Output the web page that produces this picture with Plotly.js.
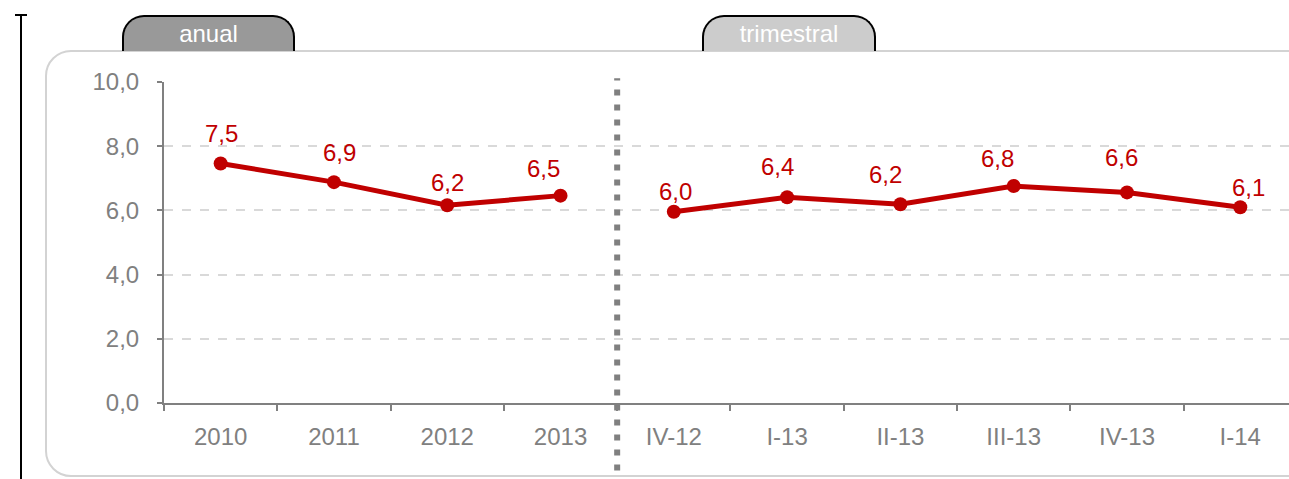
<!DOCTYPE html>
<html><head><meta charset="utf-8">
<script src="https://cdn.plot.ly/plotly-3.0.1.min.js"></script>
<style>
html,body{margin:0;padding:0;background:#fff;overflow:hidden;}
#wrap{position:relative;width:1289px;height:479px;}
#frame{position:absolute;left:45px;top:50px;width:1300px;height:427px;border:2px solid #d3d3d3;border-radius:26px;box-sizing:border-box;}
.tab{position:absolute;top:15px;height:36px;border:2px solid #000;border-bottom:none;border-radius:22px 22px 0 0;box-sizing:border-box;color:#fff;font-family:"Liberation Sans Narrow","Liberation Sans",Arial,sans-serif;font-size:24px;text-align:center;line-height:34px;}
#vline{position:absolute;left:20px;top:15px;width:2px;height:464px;background:#000;}
#vcap{position:absolute;left:15px;top:14px;width:12px;height:2px;background:#000;}
#chart{position:absolute;left:0;top:0;width:1289px;height:479px;}
</style></head>
<body><div id="wrap">
<div id="vline"></div><div id="vcap"></div>
<div id="frame"></div>
<div class="tab" style="left:122px;width:173px;background:#999;">anual</div>
<div class="tab" style="left:702px;width:174px;background:#ccc;">trimestral</div>
<div id="chart"></div>
</div>
<script>
const categories = ["2010","2011","2012","2013","IV-12","I-13","II-13","III-13","IV-13","I-14"];
const annualValues = [7.46, 6.88, 6.16, 6.46];
const quarterValues = [5.96, 6.41, 6.19, 6.76, 6.56, 6.1];
const yTicks = [0, 2, 4, 6, 8, 10];

// label placement (layout only, in pixels)
const labelYShift = [30, 30, 23, 27, 20, 31, 30, 28, 35, 20];
const labelXShift = [1, 6, 0, -17, 2, -10, -15, -16, -5, 8];

const red = "#c00000";
const fmt = v => v.toFixed(1).replace(".", ",");
const annualCats = categories.slice(0, 4);
const quarterCats = categories.slice(4);

const traceStyle = {type:"scatter", mode:"lines+markers", line:{color:red, width:5}, marker:{color:red, size:14}, hoverinfo:"skip", showlegend:false, cliponaxis:false};
const data = [
  Object.assign({x: annualCats, y: annualValues}, traceStyle),
  Object.assign({x: quarterCats, y: quarterValues}, traceStyle)
];

const allValues = annualValues.concat(quarterValues);
const annotations = allValues.map((v,i)=>({x:i, y:v, text:fmt(v), xref:"x", yref:"y", showarrow:false,
  yshift:labelYShift[i], xshift:labelXShift[i],
  font:{color:red, size:24, family:"Liberation Sans, Arial, sans-serif"}}));

const layout = {
  width:1289, height:479,
  margin:{l:164, r:0, t:82, b:76},
  paper_bgcolor:"rgba(0,0,0,0)", plot_bgcolor:"rgba(0,0,0,0)",
  separators:",.",
  font:{family:"Liberation Sans, Arial, sans-serif", color:"#808080", size:24},
  xaxis:{type:"category", categoryorder:"array", categoryarray:categories, range:[-0.5, 9.43],
    showgrid:false, zeroline:false, showline:true, linecolor:"#808080", linewidth:2,
    ticks:"outside", tickson:"boundaries", ticklen:6, tickwidth:2, tickcolor:"#808080",
    ticklabelstandoff:11, tickfont:{size:24, color:"#808080"}, fixedrange:true},
  yaxis:{range:[0,10], tickvals:yTicks, tickformat:".1f", showgrid:true, gridcolor:"#d9d9d9", gridwidth:2, griddash:"dash",
    zeroline:false, showline:true, linecolor:"#808080", linewidth:2,
    ticks:"outside", ticklen:5, tickwidth:2, tickcolor:"#808080", ticklabelstandoff:13,
    tickfont:{size:24, color:"#808080"}, fixedrange:true},
  shapes:[{type:"line", xref:"x", yref:"paper", x0:3.5, x1:3.5, y0:-0.21, y1:1.012,
    line:{color:"#808080", width:6, dash:"6px,9px"}}],
  annotations: annotations
};
Plotly.newPlot("chart", data, layout, {displayModeBar:false, staticPlot:true});
</script></body></html>
